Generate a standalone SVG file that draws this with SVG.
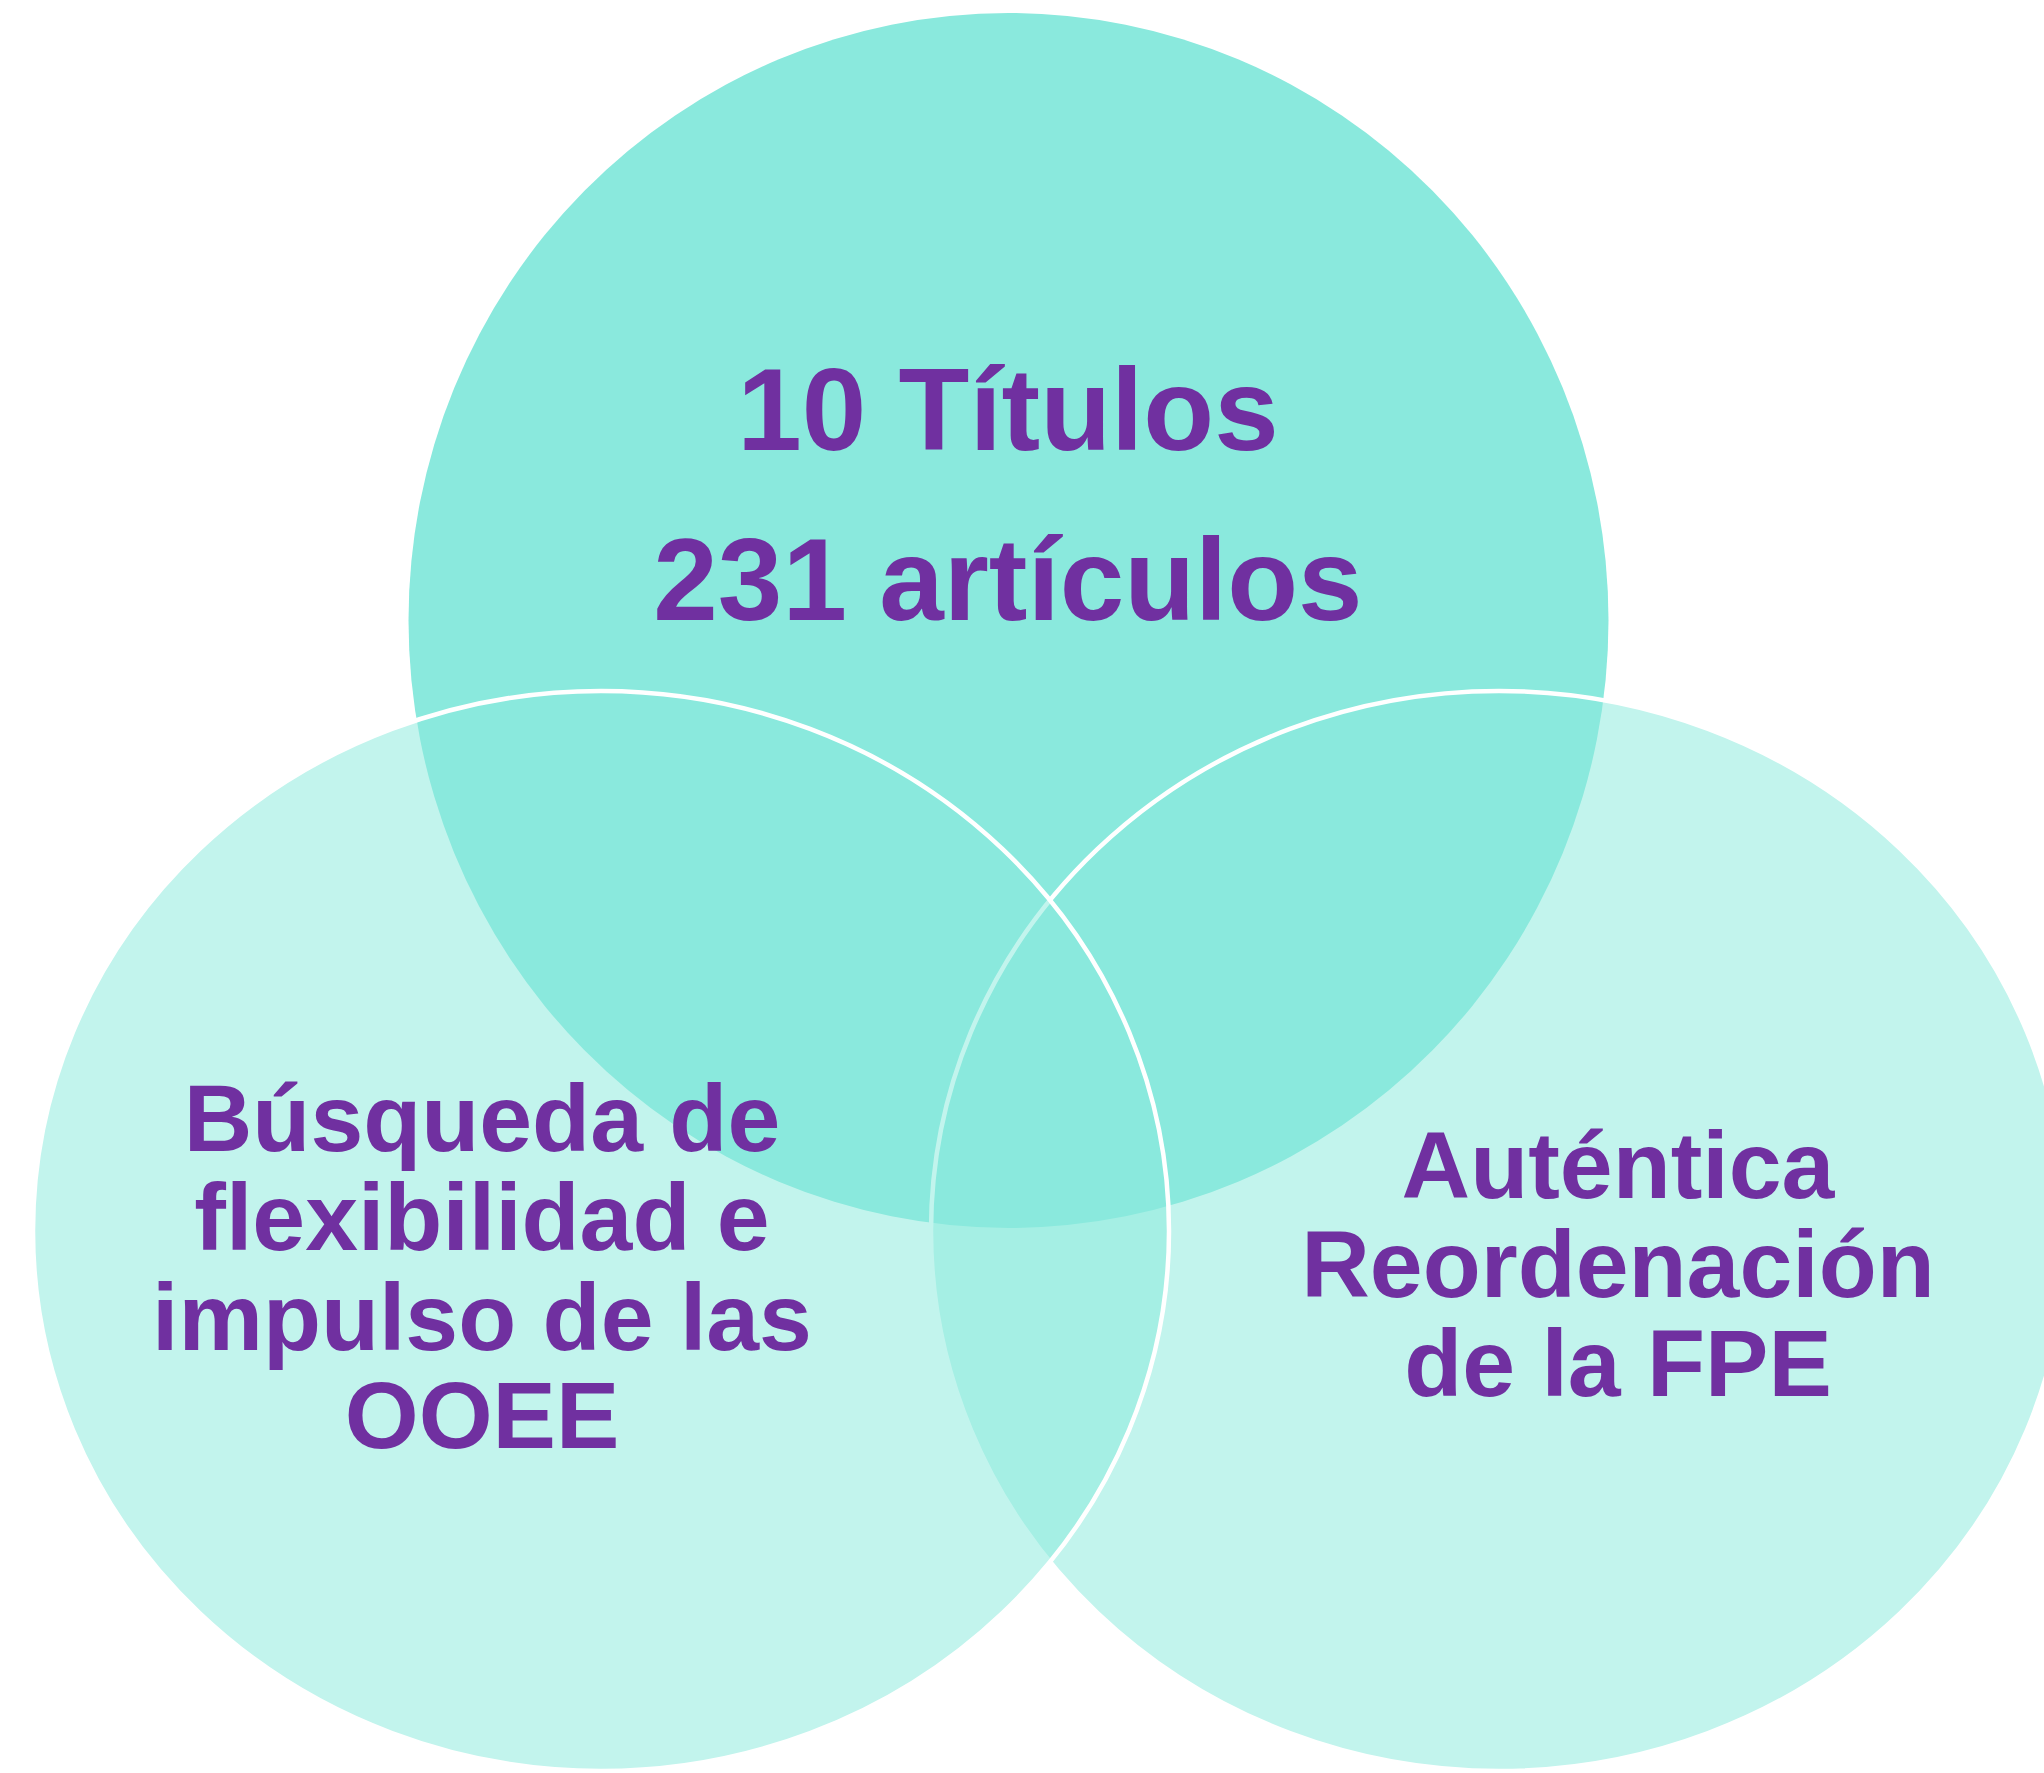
<svg xmlns="http://www.w3.org/2000/svg" width="2044" height="1773" viewBox="0 0 2044 1773">
<style>
.top{fill:#8AE9DD;stroke:none}
.low{fill:#8AE9DD;fill-opacity:0.52;stroke:#FFFFFF;stroke-width:4.5}
.lbl{font-family:"Liberation Sans",Arial,sans-serif;font-weight:bold;fill:#7030A0;text-anchor:middle}
</style>
<rect width="2044" height="1773" fill="#FFFFFF"/>
<g id="node-top">
<ellipse class="top" cx="1008.5" cy="620.5" rx="600" ry="607.5"/>
</g>
<g id="node-right">
<ellipse class="low" cx="1499" cy="1231" rx="568" ry="540"/>
</g>
<g id="node-left">
<ellipse class="low" cx="601" cy="1231" rx="568" ry="540"/>
</g>
<g id="labels">
<g id="label-top">
<text class="lbl" x="1008" y="450" font-size="116">10 Títulos</text>
<text class="lbl" x="1008" y="620" font-size="116">231 artículos</text>
</g>
<g id="label-left">
<text class="lbl" x="482" y="1151" font-size="95">Búsqueda de</text>
<text class="lbl" x="482" y="1250" font-size="95">flexibilidad e</text>
<text class="lbl" x="482" y="1350" font-size="95">impulso de las</text>
<text class="lbl" x="482" y="1448" font-size="95">OOEE</text>
</g>
<g id="label-right">
<text class="lbl" x="1618" y="1198" font-size="95">Auténtica</text>
<text class="lbl" x="1618" y="1297" font-size="95">Reordenación</text>
<text class="lbl" x="1618" y="1396" font-size="95">de la FPE</text>
</g>
</g>
<g id="connectors"/>
</svg>
